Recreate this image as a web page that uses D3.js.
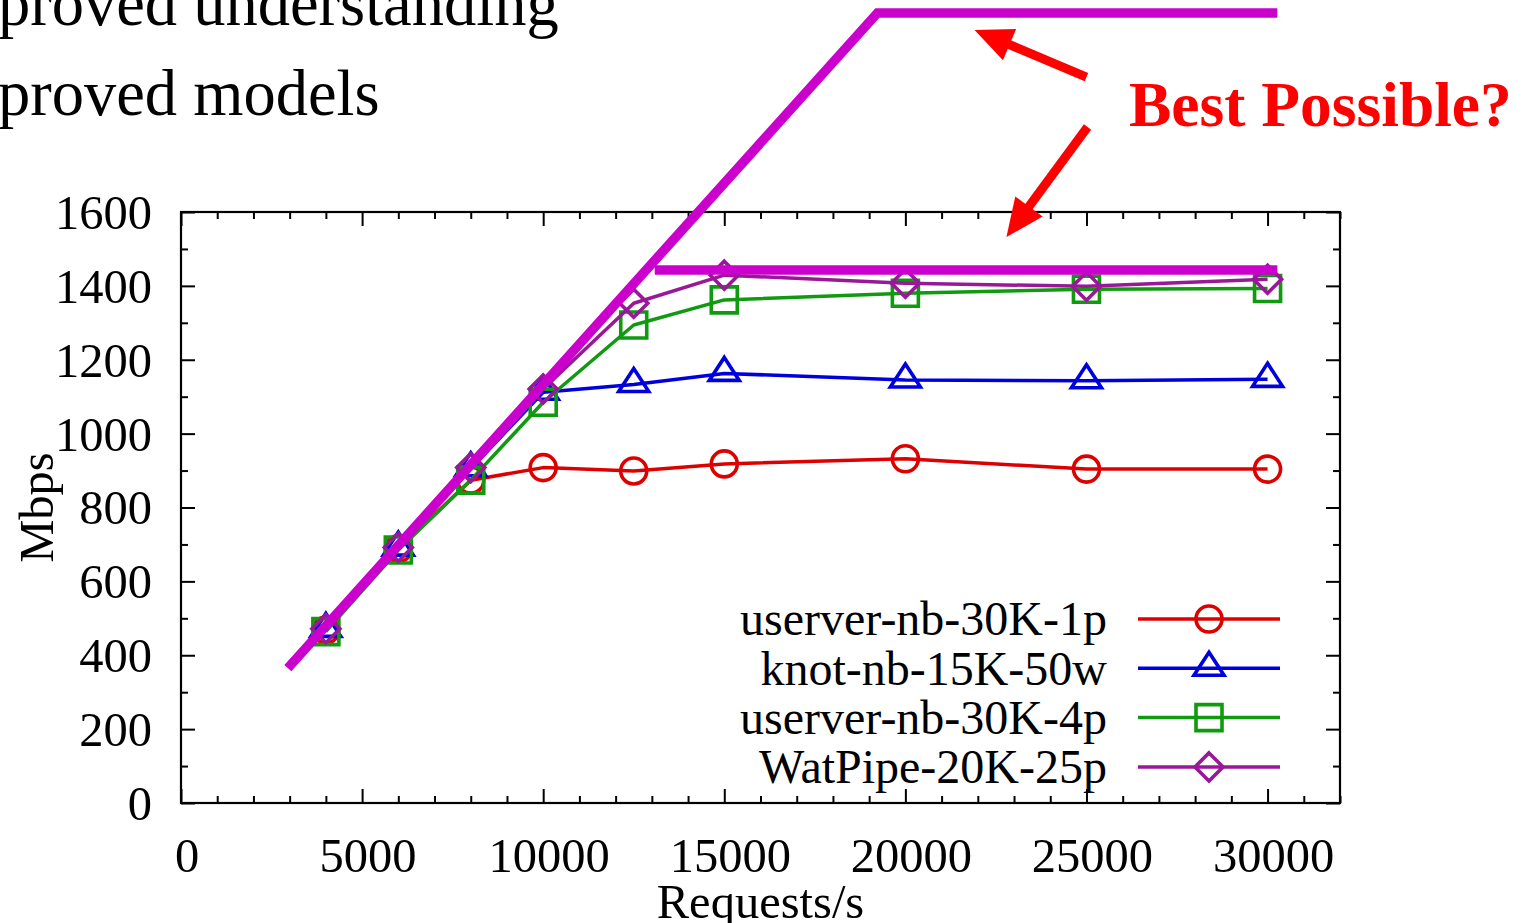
<!DOCTYPE html>
<html>
<head>
<meta charset="utf-8">
<script src="https://cdn.jsdelivr.net/npm/d3@7"></script>
<style>
  html, body { margin: 0; padding: 0; background: #fff; overflow: hidden; }
  svg { display: block; }
  text { font-family: "Liberation Serif", "Times New Roman", serif; }
</style>
</head>
<body>
<svg id="chart" width="1526" height="923"></svg>
<script>
// Offered load (requests/s)
const requests = [4000, 6000, 8000, 10000, 12500, 15000, 20000, 25000, 30000];

// Throughput (Mbps) for each server configuration
const userver1p = [468, 688, 874, 908, 899, 918, 932, 904, 904];
const knot50w   = [470, 690, 905, 1112, 1133, 1163, 1145, 1143, 1147];
const userver4p = [464, 685, 874, 1085, 1294, 1362, 1380, 1391, 1393];
const watpipe   = [472, 692, 908, 1121, 1353, 1429, 1407, 1399, 1418];

const seriesNames = ["userver-nb-30K-1p", "knot-nb-15K-50w", "userver-nb-30K-4p", "WatPipe-20K-25p"];

// Axis ticks
const xMajorTicks = [0, 5000, 10000, 15000, 20000, 25000, 30000];
const yMajorTicks = [0, 200, 400, 600, 800, 1000, 1200, 1400, 1600];

// "Best possible" bounds (requests/s, Mbps)
const upperBound = [[2950, 365], [19230, 2139], [30270, 2139]];
const lowerBound = [[13080, 1443], [30270, 1443]];

// Pointer arrows toward the two bounds: [tail, tip]
const arrows = [
  [[25000, 1965], [21910, 2093]],
  [[25030, 1830], [22790, 1532]]
];

const headingLines = ["proved understanding", "proved models"];

const svg = d3.select("#chart");
const x = d3.scaleLinear().domain([0, 32000]).range([181, 1340]);
const y = d3.scaleLinear().domain([0, 1600]).range([803, 212]);

const colors = ["#dd0000", "#0000dd", "#109a10", "#981898"];
const shapes = ["circle", "triangle", "square", "diamond"];
const values = [userver1p, knot50w, userver4p, watpipe];

// Heading text
svg.selectAll("text.heading")
  .data(headingLines)
  .join("text")
  .attr("class", "heading")
  .attr("x", -2)
  .attr("y", (d, i) => 25 + i * 90)
  .attr("font-size", 64.5)
  .attr("fill", "#000")
  .text(d => d);

// Axis ticks (inward, mirrored on all four sides)
const xMinor = d3.range(0, 32001, 1000).filter(v => v % 5000 !== 0);
const yMinor = d3.range(0, 1601, 100).filter(v => v % 200 !== 0);

function tickGroup(axis, transform) {
  const g = svg.append("g").attr("transform", transform).call(axis);
  g.select(".domain").remove();
  g.selectAll("line").attr("stroke", "#000").attr("stroke-width", 2);
  g.selectAll("text").remove();
  return g;
}
tickGroup(d3.axisBottom(x).tickValues(xMajorTicks).tickSize(-14), "translate(0,803)");
tickGroup(d3.axisBottom(x).tickValues(xMinor).tickSize(-7), "translate(0,803)");
tickGroup(d3.axisTop(x).tickValues(xMajorTicks).tickSize(-14), "translate(0,212)");
tickGroup(d3.axisTop(x).tickValues(xMinor).tickSize(-7), "translate(0,212)");
tickGroup(d3.axisLeft(y).tickValues(yMajorTicks).tickSize(-14), "translate(181,0)");
tickGroup(d3.axisLeft(y).tickValues(yMinor).tickSize(-7), "translate(181,0)");
tickGroup(d3.axisRight(y).tickValues(yMajorTicks).tickSize(-14), "translate(1340,0)");
tickGroup(d3.axisRight(y).tickValues(yMinor).tickSize(-7), "translate(1340,0)");

// Plot frame
svg.append("rect")
  .attr("x", x(0)).attr("y", y(1600))
  .attr("width", x(32000) - x(0)).attr("height", y(0) - y(1600))
  .attr("fill", "none").attr("stroke", "#000").attr("stroke-width", 2.2);

// Tick labels
svg.selectAll("text.xtick")
  .data(xMajorTicks)
  .join("text")
  .attr("class", "xtick")
  .attr("x", d => x(d) + 6)
  .attr("y", 872)
  .attr("text-anchor", "middle")
  .attr("font-size", 48.5)
  .text(d => d);

svg.selectAll("text.ytick")
  .data(yMajorTicks)
  .join("text")
  .attr("class", "ytick")
  .attr("x", 152)
  .attr("y", d => y(d))
  .attr("dy", "0.35em")
  .attr("text-anchor", "end")
  .attr("font-size", 48.5)
  .text(d => d);

// Axis titles
svg.append("text")
  .attr("x", (x(0) + x(32000)) / 2)
  .attr("y", 918)
  .attr("text-anchor", "middle")
  .attr("font-size", 48.5)
  .text("Requests/s");

svg.append("text")
  .attr("transform", `translate(53,${(y(0) + y(1600)) / 2}) rotate(-90)`)
  .attr("text-anchor", "middle")
  .attr("font-size", 48.5)
  .text("Mbps");

// Marker shapes
function markerPath(shape) {
  switch (shape) {
    case "circle": return d3.symbol(d3.symbolCircle, Math.PI * 13 * 13)();
    case "triangle": return "M0,-16L15,7L-15,7Z";
    case "square": return "M-13,-13H13V13H-13Z";
    case "diamond": return "M0,-14L14,0L0,14L-14,0Z";
  }
}

const line = d3.line().x(d => x(d[0])).y(d => y(d[1]));

values.forEach((vals, i) => {
  const pts = requests.map((r, k) => [r, vals[k]]);
  const g = svg.append("g");
  g.append("path")
    .datum(pts)
    .attr("d", line)
    .attr("fill", "none")
    .attr("stroke", colors[i])
    .attr("stroke-width", 3.5)
    .attr("stroke-linejoin", "round");
  g.selectAll("path.mark")
    .data(pts)
    .join("path")
    .attr("class", "mark")
    .attr("transform", d => `translate(${x(d[0])},${y(d[1])})`)
    .attr("d", markerPath(shapes[i]))
    .attr("fill", "none")
    .attr("stroke", colors[i])
    .attr("stroke-width", 3.6);
});

// Legend
const legend = svg.append("g");
seriesNames.forEach((name, i) => {
  const ly = 619 + i * 49.3;
  legend.append("text")
    .attr("x", 1107).attr("y", ly).attr("dy", "0.34em")
    .attr("text-anchor", "end").attr("font-size", 48)
    .text(name);
  legend.append("line")
    .attr("x1", 1138).attr("x2", 1280).attr("y1", ly).attr("y2", ly)
    .attr("stroke", colors[i]).attr("stroke-width", 3.5);
  legend.append("path")
    .attr("transform", `translate(1209,${ly})`)
    .attr("d", markerPath(shapes[i]))
    .attr("fill", "none").attr("stroke", colors[i]).attr("stroke-width", 3.6);
});

// Best-possible bounds
const boundLine = d3.line().x(d => x(d[0])).y(d => y(d[1]));
[upperBound, lowerBound].forEach(b => {
  svg.append("path")
    .datum(b)
    .attr("d", boundLine)
    .attr("fill", "none")
    .attr("stroke", "#cc00cc")
    .attr("stroke-width", 9.5)
    .attr("stroke-linejoin", "miter");
});

// Arrows
arrows.forEach(([tail, tip]) => {
  const x0 = x(tail[0]), y0 = y(tail[1]), x1 = x(tip[0]), y1 = y(tip[1]);
  const ang = Math.atan2(y1 - y0, x1 - x0);
  const headLen = 38, headHalf = 17;
  const bx = x1 - headLen * Math.cos(ang), by = y1 - headLen * Math.sin(ang);
  svg.append("line")
    .attr("x1", x0).attr("y1", y0).attr("x2", bx + 4 * Math.cos(ang)).attr("y2", by + 4 * Math.sin(ang))
    .attr("stroke", "#ff0000").attr("stroke-width", 9);
  const px = -Math.sin(ang), py = Math.cos(ang);
  svg.append("path")
    .attr("d", `M${x1},${y1}L${bx + headHalf * px},${by + headHalf * py}L${bx - headHalf * px},${by - headHalf * py}Z`)
    .attr("fill", "#ff0000");
});

svg.append("text")
  .attr("x", 1129).attr("y", 126)
  .attr("font-size", 63.5).attr("font-weight", "bold")
  .attr("fill", "#ff0000")
  .text("Best Possible?");
</script>
</body>
</html>
